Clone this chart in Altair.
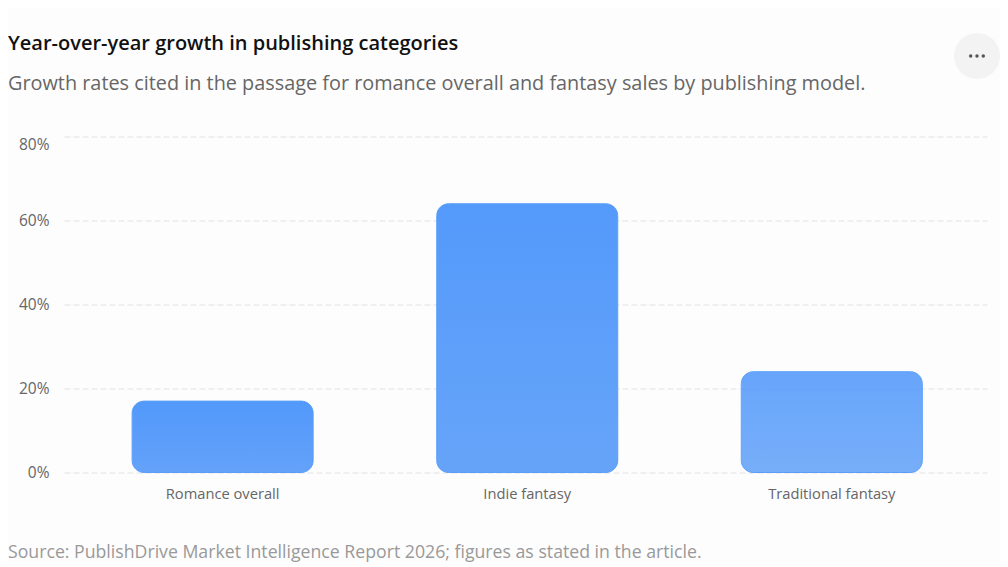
import altair as alt
import pandas as pd

categories = ["Romance overall", "Indie fantasy", "Traditional fantasy"]
growth = [17, 64, 24]
bar_opacity = [0.98, 0.97, 0.86]
y_ticks = [0, 20, 40, 60, 80]
title_text = "Year-over-year growth in publishing categories"
subtitle_text = "Growth rates cited in the passage for romance overall and fantasy sales by publishing model."
source_text = "Source: PublishDrive Market Intelligence Report 2026; figures as stated in the article."

df = pd.DataFrame({"category": categories, "growth": growth, "op": bar_opacity})
FONT = "Open Sans"

gradient = alt.Gradient(
    gradient="linear", x1=0, y1=0, x2=0, y2=1,
    stops=[alt.GradientStop(color="#4f97fb", offset=0), alt.GradientStop(color="#61a1f9", offset=1)],
)

bars = alt.Chart(df).mark_bar(
    fill=gradient, cornerRadius=12, stroke="#5a9ef8", strokeWidth=1, strokeOpacity=1
).encode(
    x=alt.X("category:N", sort=categories, title=None,
            scale=alt.Scale(paddingInner=0.4056, paddingOuter=0.218, align=0.513),
            axis=alt.Axis(domain=False, ticks=False, grid=False, labelAngle=0, labelFont=FONT,
                          labelFontSize=14.7, labelColor="#666666", labelPadding=13.5)),
    y=alt.Y("growth:Q", title=None,
            scale=alt.Scale(domain=[0, 80], nice=False),
            axis=alt.Axis(values=y_ticks, domain=False, ticks=False, grid=True, gridColor="#e2e2e2",
                          gridDash=[6, 3], gridWidth=1, labelFont=FONT, labelFontSize=15.5,
                          labelColor="#666666", labelPadding=15, labelBound=False,
                          labelExpr="datum.value + '%'",
                          labelOffset={"condition": {"test": "datum.value == 80", "value": 8}, "value": 0})),
    opacity=alt.Opacity("op:Q", scale=None, legend=None),
)


def text_layer(content, y, size, color, weight=400):
    return alt.Chart(pd.DataFrame({"t": [content]})).mark_text(
        align="left", baseline="middle", font=FONT, fontSize=size, color=color, fontWeight=weight
    ).encode(x=alt.value(-56), y=alt.value(y), text="t:N")


title = text_layer(title_text, -92.5, 20, "#111111", 600)
subtitle = text_layer(subtitle_text, -52.5, 19.85, "#666666")
source = text_layer(source_text, 416.5, 17.7, "#999999")

button = alt.Chart(pd.DataFrame({"a": [1]})).mark_circle(color="#f3f3f3", opacity=1, size=2116).encode(
    x=alt.value(913), y=alt.value(-80.5))
dots = [alt.Chart(pd.DataFrame({"a": [1]})).mark_circle(color="#555555", opacity=1, size=12).encode(
    x=alt.value(v), y=alt.value(-80.5)) for v in (906.7, 913, 919.3)]

chart = alt.layer(bars, title, subtitle, source, button, *dots).properties(
    width=923, height=336,
    padding={"left": 56, "top": 128.5, "right": 13, "bottom": 92},
    autosize="none",
    background="#fdfdfd",
).configure_view(stroke=None)

chart.save("out.html", embed_options={"renderer": "svg", "actions": False})
